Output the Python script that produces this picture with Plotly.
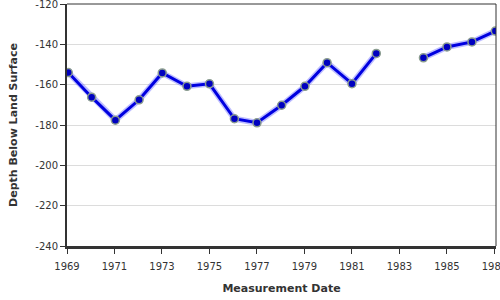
import plotly.graph_objects as go

dates = ["1969-01-20", "1970-01-15", "1971-01-15", "1972-01-15", "1973-01-05",
         "1974-01-20", "1975-01-01", "1976-01-20", "1977-01-01", "1978-01-15",
         "1979-01-08", "1979-12-15", "1981-01-01", "1982-01-10", "1983-01-01",
         "1984-01-05", "1985-01-01", "1986-01-20", "1987-01-15"]
depth = [-154, -166.2, -177.6, -167.5, -154.2,
         -160.8, -159.6, -176.9, -178.9, -170.2,
         -160.8, -149.1, -159.5, -144.5, None,
         -146.7, -141.3, -138.8, -133.4]

y_ticks = [-240, -220, -200, -180, -160, -140, -120]
y_tick_labels = ["-240", "-220", "-200", "-180", "-160", "-140", "-120"]

fig = go.Figure()
fig.add_trace(go.Scatter(x=dates, y=depth, mode="lines",
                         line=dict(color="rgba(90,90,255,0.4)", width=6),
                         connectgaps=False, hoverinfo="skip", showlegend=False))
fig.add_trace(go.Scatter(x=dates, y=depth, mode="lines+markers",
                         line=dict(color="#0000e0", width=3),
                         marker=dict(size=8, color="#0000c0",
                                     line=dict(color="#8b9d8f", width=1.5)),
                         connectgaps=False, showlegend=False))

fig.update_layout(
    width=500, height=300,
    margin=dict(l=67, r=4, t=4, b=54),
    paper_bgcolor="white", plot_bgcolor="white",
    font=dict(family="DejaVu Sans", size=10, color="#333"),
    xaxis=dict(
        type="date", range=["1969-01-01", "1987-01-25"],
        tick0="1969-01-01", dtick="M24", tickformat="%Y",
        showgrid=False, showline=True, linecolor="#333", linewidth=3,
        ticks="outside", ticklen=5, tickcolor="#333", tickwidth=1,
        ticklabeloverflow="allow", automargin=False, ticklabelstandoff=4,
        title=dict(text="<b>Measurement Date</b>", font=dict(size=11, color="#333"), standoff=14),
        zeroline=False,
    ),
    yaxis=dict(
        range=[-240, -120], tickmode="array", tickvals=y_ticks, ticktext=y_tick_labels,
        showgrid=True, gridcolor="#dcdcdc", gridwidth=1,
        showline=True, linecolor="#333", linewidth=2,
        ticks="outside", ticklen=5, tickcolor="#333", tickwidth=1,
        ticklabeloverflow="allow", automargin=False,
        title=dict(text="<b>Depth Below Land Surface</b>", font=dict(size=11, color="#333"), standoff=15),
        zeroline=False,
    ),
    shapes=[
        dict(type="line", xref="paper", yref="paper", x0=0, x1=1, y0=1, y1=1,
             line=dict(color="#333", width=1)),
        dict(type="line", xref="paper", yref="paper", x0=1, x1=1, y0=0, y1=1,
             line=dict(color="#333", width=1)),
    ],
)

fig.write_html("out.html")
